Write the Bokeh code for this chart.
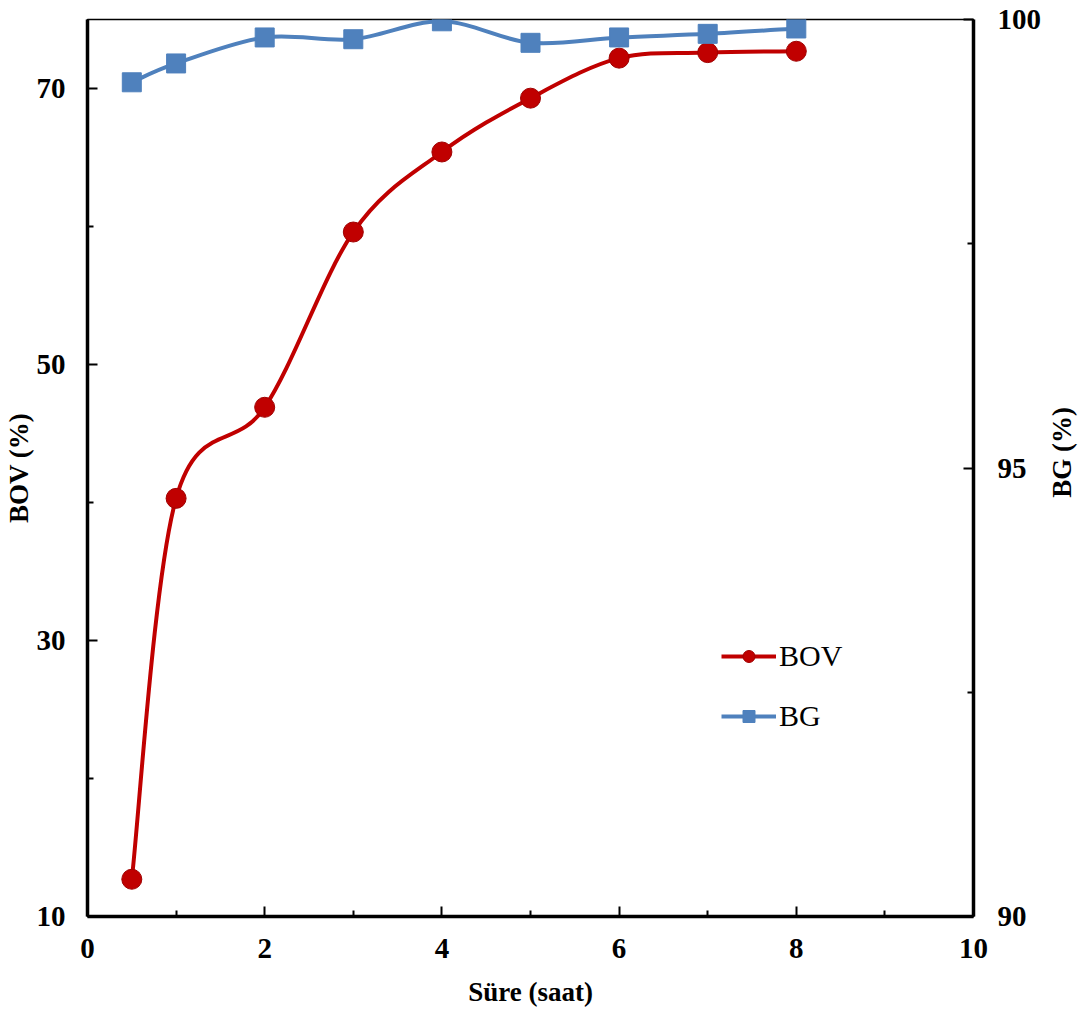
import math
import numpy as np
from bokeh.plotting import figure
from bokeh.models import (Range1d, LinearAxis, FixedTicker, Legend, LegendItem, Label)
from bokeh.embed import file_html
from bokeh.resources import INLINE

# ---- data ----
hours = [0.5, 1, 2, 3, 4, 5, 6, 7, 8]
bov = [12.7, 40.3, 46.9, 59.6, 65.4, 69.3, 72.2, 72.6, 72.7]
bg = [99.30, 99.51, 99.80, 99.78, 99.98, 99.74, 99.80, 99.84, 99.90]

x_ticks = [0, 2, 4, 6, 8, 10]
x_minor = [1, 3, 5, 7, 9]
bov_ticks = [10, 30, 50, 70]
bov_minor = [20, 40, 60]
bg_ticks = [90, 95, 100]
bg_minor = [92.5, 97.5]

RED = "#C00000"
BLUE = "#4F81BD"
FONT = "Liberation Serif"


def smooth_segments(xs, ys):
    """Catmull-Rom style bezier control points (Excel-like smoothed line)."""
    xs = np.asarray(xs, float)
    ys = np.asarray(ys, float)
    n = len(xs)
    px = np.concatenate([[xs[0]], xs, [xs[-1]]])
    py = np.concatenate([[ys[0]], ys, [ys[-1]]])
    d = dict(x0=[], y0=[], x1=[], y1=[], cx0=[], cy0=[], cx1=[], cy1=[])
    for i in range(n - 1):
        p0x, p0y = px[i], py[i]
        p1x, p1y = px[i + 1], py[i + 1]
        p2x, p2y = px[i + 2], py[i + 2]
        p3x, p3y = px[i + 3], py[i + 3]
        d["x0"].append(p1x); d["y0"].append(p1y)
        d["x1"].append(p2x); d["y1"].append(p2y)
        d["cx0"].append(p1x + (p2x - p0x) / 6.0)
        d["cy0"].append(p1y + (p2y - p0y) / 6.0)
        d["cx1"].append(p2x - (p3x - p1x) / 6.0)
        d["cy1"].append(p2y - (p3y - p1y) / 6.0)
    return d


p = figure(width=1075, height=1008, output_backend="svg", toolbar_location=None,
           x_range=Range1d(0, 10), y_range=Range1d(10, 75),
           frame_width=886, frame_height=897,
           min_border_left=78, min_border_right=111, min_border_top=19, min_border_bottom=92,
           x_axis_type=None, y_axis_type=None)
p.grid.visible = False
p.outline_line_color = "black"
p.outline_line_width = 1.5
p.background_fill_color = "white"
p.border_fill_color = "white"

p.extra_y_ranges = {"bg": Range1d(90, 100)}


def style_axis(ax, ticks, minor):
    ax.ticker = FixedTicker(ticks=ticks, minor_ticks=minor)
    ax.axis_line_width = 3.5
    ax.axis_line_color = "black"
    ax.major_tick_in = 10
    ax.major_tick_out = 0
    ax.minor_tick_in = 6
    ax.minor_tick_out = 0
    ax.major_tick_line_width = 2
    ax.minor_tick_line_width = 2
    ax.major_label_text_font = FONT
    ax.major_label_text_font_style = "bold"
    ax.major_label_text_font_size = "29px"
    ax.major_label_text_color = "black"
    ax.axis_label_text_font = FONT
    ax.axis_label_text_font_style = "bold"
    ax.axis_label_text_font_size = "27px"
    ax.axis_label_text_color = "black"


xaxis = LinearAxis(axis_label="Süre (saat)")
style_axis(xaxis, x_ticks, x_minor)
xaxis.major_label_standoff = 22
xaxis.axis_label_standoff = 16
p.add_layout(xaxis, "below")

yaxis = LinearAxis(axis_label="BOV (%)")
style_axis(yaxis, bov_ticks, bov_minor)
yaxis.major_label_standoff = 22
yaxis.axis_label_standoff = 0
p.add_layout(yaxis, "left")

y2 = LinearAxis(y_range_name="bg")
style_axis(y2, bg_ticks, bg_minor)
y2.major_label_standoff = 24
p.add_layout(y2, "right")

# right axis title, reading bottom-to-top like the reference (placed in the right panel)
bg_title = Label(x=17, y=464, x_units="screen", y_units="screen",
                 text="BG (%)", angle=math.pi / 2, text_align="center",
                 text_baseline="middle", text_font=FONT, text_font_style="bold",
                 text_font_size="27px", text_color="black")
p.add_layout(bg_title, "right")

# BOV smoothed line + markers
sb = smooth_segments(hours, bov)
r_bov_curve = p.bezier(x0=sb["x0"], y0=sb["y0"], x1=sb["x1"], y1=sb["y1"],
                       cx0=sb["cx0"], cy0=sb["cy0"], cx1=sb["cx1"], cy1=sb["cy1"],
                       line_color=RED, line_width=4)
r_bov_pts = p.scatter(hours, bov, marker="circle", size=20,
                      fill_color=RED, line_color="#A00000", line_width=1)

# BG smoothed line + markers
sg = smooth_segments(hours, bg)
r_bg_curve = p.bezier(x0=sg["x0"], y0=sg["y0"], x1=sg["x1"], y1=sg["y1"],
                      cx0=sg["cx0"], cy0=sg["cy0"], cx1=sg["cx1"], cy1=sg["cy1"],
                      line_color=BLUE, line_width=4, y_range_name="bg")
r_bg_pts = p.scatter(hours, bg, marker="square", size=19,
                     fill_color=BLUE, line_color=BLUE, y_range_name="bg")

legend = Legend(items=[
    LegendItem(label="BOV", renderers=[r_bov_curve, r_bov_pts]),
    LegendItem(label="BG", renderers=[r_bg_curve, r_bg_pts]),
], location=(634, 183))
legend.label_text_font = FONT
legend.label_text_font_size = "30px"
legend.label_text_color = "black"
legend.glyph_width = 55
legend.glyph_height = 30
legend.label_height = 30
legend.label_standoff = 3
legend.spacing = 26
legend.padding = 0
legend.margin = 0
legend.border_line_color = None
legend.background_fill_alpha = 0
p.add_layout(legend, "center")

open("out.html", "w").write(file_html(p, INLINE))
